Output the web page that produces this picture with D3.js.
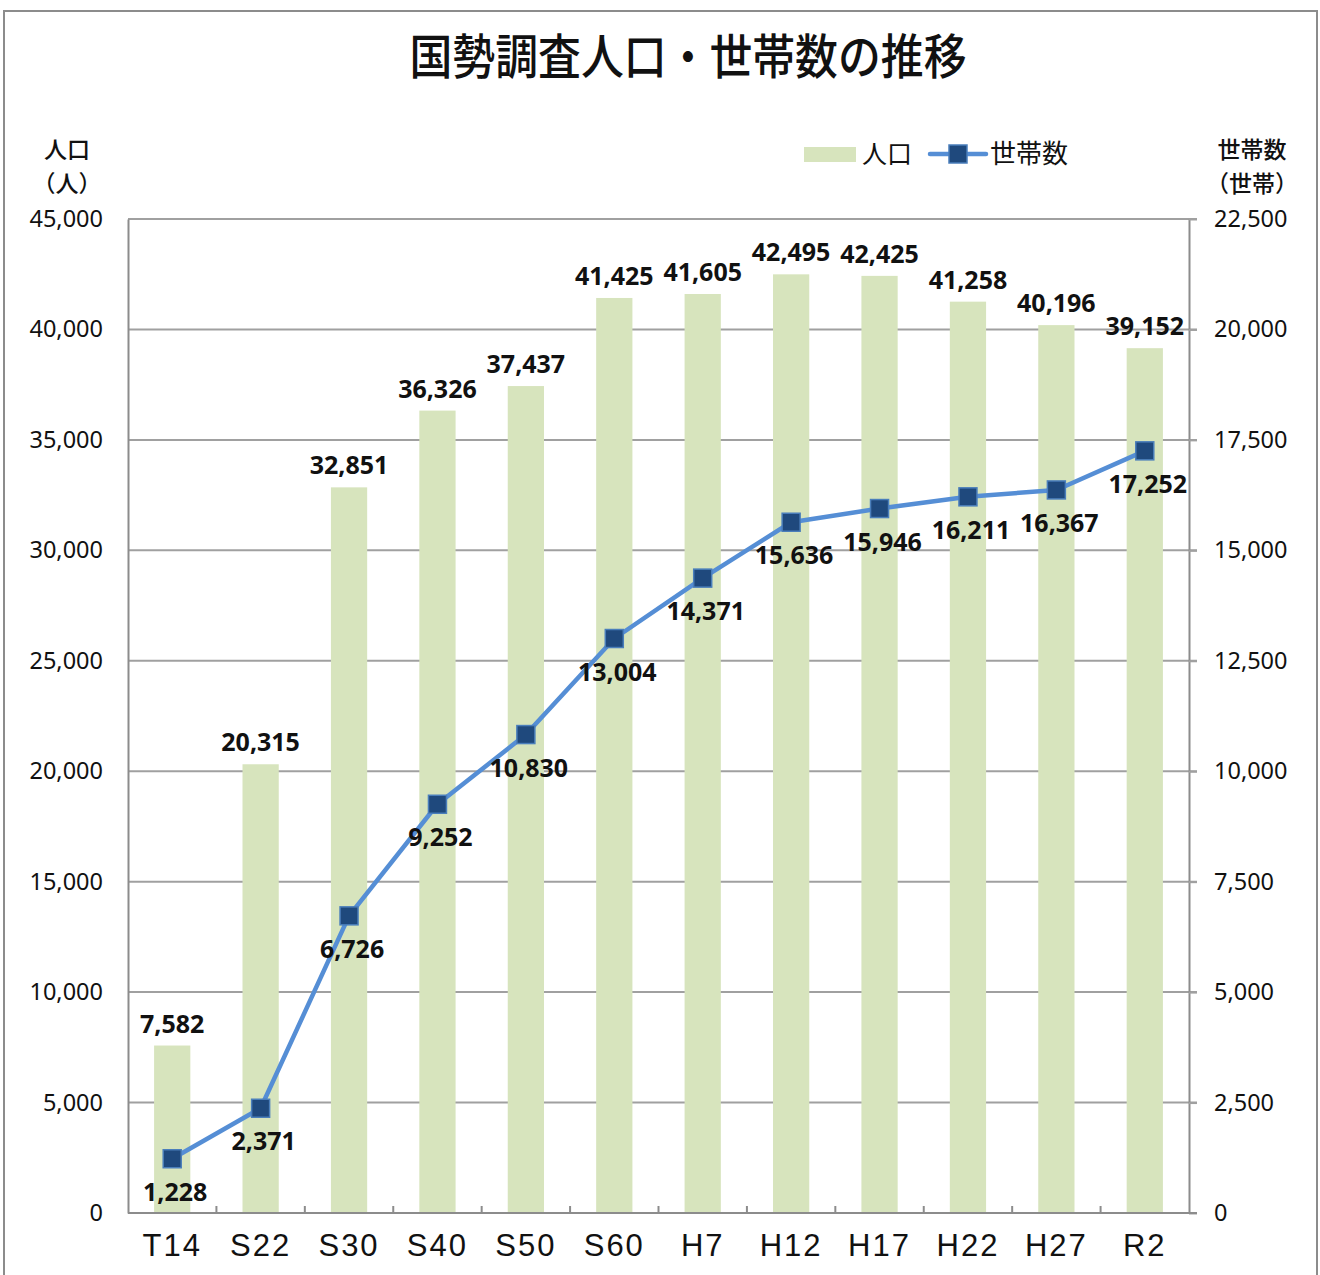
<!DOCTYPE html>
<html>
<head>
<meta charset="utf-8">
<script src="https://cdn.jsdelivr.net/npm/d3@7"></script>
<style>
  body { margin: 0; background: #fff; }
  svg { display: block; }
</style>
</head>
<body>
<svg id="chart" width="1320" height="1275"></svg>
<script>
// 国勢調査 data
const years = ["T14", "S22", "S30", "S40", "S50", "S60", "H7", "H12", "H17", "H22", "H27", "R2"]
const population = [7582, 20315, 32851, 36326, 37437, 41425, 41605, 42495, 42425, 41258, 40196, 39152]
const households = [1228, 2371, 6726, 9252, 10830, 13004, 14371, 15636, 15946, 16211, 16367, 17252]
const leftTicks = [0, 5000, 10000, 15000, 20000, 25000, 30000, 35000, 40000, 45000]
const rightTicks = [0, 2500, 5000, 7500, 10000, 12500, 15000, 17500, 20000, 22500]

const plot = { left: 128, right: 1189, top: 219, bottom: 1213 }
const fmt = d3.format(",")
const barColour = "#d7e4bd"
const lineColour = "#558ed5"
const markerFill = "#1f497d"
const jp = "'Noto Sans CJK JP', sans-serif"
const num = "'Noto Sans', sans-serif"

const svg = d3.select("#chart")

// outer frame
svg.append("rect")
    .attr("x", 4).attr("y", 11)
    .attr("width", 1313).attr("height", 1300)
    .attr("fill", "none").attr("stroke", "#8c8c8c").attr("stroke-width", 2)

const x = d3.scaleBand().domain(years).range([plot.left, plot.right])
const yL = d3.scaleLinear().domain([0, 45000]).range([plot.bottom, plot.top])
const yR = d3.scaleLinear().domain([0, 22500]).range([plot.bottom, plot.top])

// gridlines
svg.append("g")
    .selectAll("line")
    .data(leftTicks.filter((d) => d > 0))
    .join("line")
    .attr("x1", plot.left).attr("x2", plot.right + 8)
    .attr("y1", (d) => yL(d)).attr("y2", (d) => yL(d))
    .attr("stroke", "#a0a0a0").attr("stroke-width", 2)

// bars
const barW = x.bandwidth() * 0.41
svg.append("g")
    .selectAll("rect")
    .data(population)
    .join("rect")
    .attr("x", (d, i) => x(years[i]) + (x.bandwidth() - barW) / 2)
    .attr("y", (d) => yL(d))
    .attr("width", barW)
    .attr("height", (d) => plot.bottom - yL(d))
    .attr("fill", barColour)

// axes
const axisL = svg.append("g")
    .attr("transform", `translate(${plot.left},0)`)
    .call(d3.axisLeft(yL).tickValues(leftTicks).tickFormat(fmt).tickSize(0).tickPadding(25))
axisL.select(".domain").attr("stroke", "#8c8c8c").attr("stroke-width", 2)
axisL.selectAll("text").attr("font-family", num).attr("font-size", 23.5).attr("fill", "#111")

const axisR = svg.append("g")
    .attr("transform", `translate(${plot.right},0)`)
    .call(d3.axisRight(yR).tickValues(rightTicks).tickFormat(fmt).tickSize(8).tickSizeOuter(0).tickPadding(17))
axisR.select(".domain").attr("stroke", "#8c8c8c").attr("stroke-width", 2)
axisR.selectAll("line").attr("stroke", "#a0a0a0").attr("stroke-width", 2)
axisR.selectAll("text").attr("font-family", num).attr("font-size", 23.5).attr("fill", "#111")

// x axis
svg.append("line")
    .attr("x1", plot.left).attr("x2", plot.right + 8)
    .attr("y1", plot.bottom).attr("y2", plot.bottom)
    .attr("stroke", "#8c8c8c").attr("stroke-width", 2)
svg.append("g")
    .selectAll("line")
    .data(years.slice(1))
    .join("line")
    .attr("x1", (d) => x(d)).attr("x2", (d) => x(d))
    .attr("y1", plot.bottom).attr("y2", plot.bottom - 7)
    .attr("stroke", "#8c8c8c").attr("stroke-width", 2)
svg.append("g")
    .selectAll("text")
    .data(years)
    .join("text")
    .attr("x", (d) => x(d) + x.bandwidth() / 2)
    .attr("y", plot.bottom + 43)
    .attr("text-anchor", "middle")
    .attr("font-family", "'Liberation Sans', sans-serif")
    .attr("font-size", 31)
    .attr("letter-spacing", 2)
    .attr("fill", "#111")
    .text((d) => d)

// household line
const cx = (i) => x(years[i]) + x.bandwidth() / 2
svg.append("path")
    .datum(households)
    .attr("fill", "none")
    .attr("stroke", lineColour)
    .attr("stroke-width", 4.5)
    .attr("stroke-linejoin", "round")
    .attr("d", d3.line().x((d, i) => cx(i)).y((d) => yR(d)))

svg.append("g")
    .selectAll("rect")
    .data(households)
    .join("rect")
    .attr("x", (d, i) => cx(i) - 9)
    .attr("y", (d) => yR(d) - 9)
    .attr("width", 18).attr("height", 18)
    .attr("fill", markerFill)
    .attr("stroke", "#4a7ebb").attr("stroke-width", 1.5)

// data labels
svg.append("g")
    .selectAll("text")
    .data(population)
    .join("text")
    .attr("x", (d, i) => cx(i))
    .attr("y", (d) => yL(d) - 13)
    .attr("text-anchor", "middle")
    .attr("font-family", num).attr("font-weight", 700).attr("font-size", 25)
    .attr("fill", "#111")
    .text(fmt)

svg.append("g")
    .selectAll("text")
    .data(households)
    .join("text")
    .attr("x", (d, i) => cx(i) + 3)
    .attr("y", (d) => yR(d) + 42)
    .attr("text-anchor", "middle")
    .attr("font-family", num).attr("font-weight", 700).attr("font-size", 25)
    .attr("fill", "#111")
    .text(fmt)

// title
svg.append("text")
    .attr("x", 688).attr("y", 74)
    .attr("text-anchor", "middle")
    .attr("font-family", jp).attr("font-weight", 500).attr("font-size", 48)
    .attr("textLength", 557).attr("lengthAdjust", "spacingAndGlyphs")
    .attr("fill", "#111")
    .text("国勢調査人口・世帯数の推移")

// axis titles (two lines each)
const axTitle = (tx, lines) => {
    svg.append("g")
        .selectAll("text")
        .data(lines)
        .join("text")
        .attr("x", tx)
        .attr("y", (d, i) => 158 + i * 34)
        .attr("text-anchor", "middle")
        .attr("font-family", jp).attr("font-weight", 500).attr("font-size", 23)
        .attr("fill", "#111")
        .text((d) => d)
}
axTitle(67, ["人口", "（人）"])
axTitle(1252, ["世帯数", "（世帯）"])

// legend
const lg = svg.append("g")
lg.append("rect")
    .attr("x", 804).attr("y", 147).attr("width", 52).attr("height", 15)
    .attr("fill", barColour)
lg.append("text")
    .attr("x", 862).attr("y", 163)
    .attr("font-family", jp).attr("font-size", 25).attr("fill", "#111")
    .text("人口")
lg.append("line")
    .attr("x1", 930).attr("x2", 986).attr("y1", 154).attr("y2", 154)
    .attr("stroke", lineColour).attr("stroke-width", 4.5).attr("stroke-linecap", "round")
lg.append("rect")
    .attr("x", 949).attr("y", 145).attr("width", 18).attr("height", 18)
    .attr("fill", markerFill).attr("stroke", "#4a7ebb").attr("stroke-width", 1.5)
lg.append("text")
    .attr("x", 990).attr("y", 163)
    .attr("font-family", jp).attr("font-size", 26).attr("fill", "#111")
    .text("世帯数")
</script>
</body>
</html>
